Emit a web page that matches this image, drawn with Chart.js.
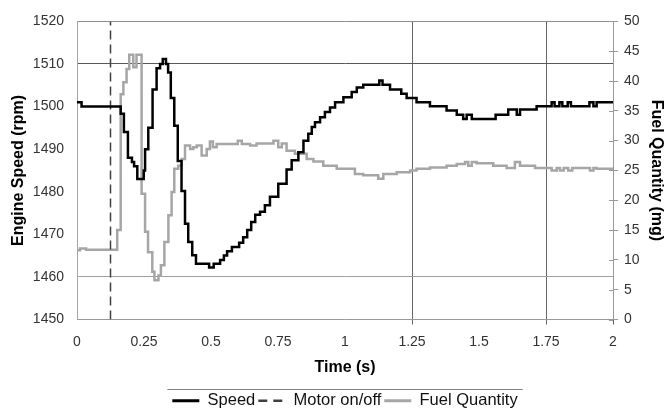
<!DOCTYPE html>
<html>
<head>
<meta charset="utf-8">
<script src="https://cdn.jsdelivr.net/npm/chart.js@4.4.0/dist/chart.umd.min.js"></script>
<style>
  html, body { margin: 0; padding: 0; background: #fff; }
</style>
</head>
<body>
<canvas id="grafico" width="668" height="411"></canvas>
<script>
// Datos (escalones: cada valor se mantiene hasta el siguiente tiempo)
const speedTime = [0, 0.017, 0.163, 0.175, 0.19, 0.205, 0.213, 0.225, 0.249, 0.254, 0.266, 0.282, 0.297, 0.31, 0.32, 0.332, 0.34, 0.35,
  0.363, 0.376, 0.39, 0.403, 0.415, 0.43, 0.444, 0.493, 0.51, 0.534, 0.548, 0.56, 0.578, 0.605, 0.62, 0.635, 0.65, 0.665, 0.683,
  0.701, 0.72, 0.751, 0.782, 0.801, 0.826, 0.845, 0.863, 0.876, 0.888, 0.907, 0.925, 0.944, 0.963, 0.994, 1.025, 1.044, 1.068,
  1.128, 1.14, 1.168, 1.21, 1.23, 1.267, 1.317, 1.379, 1.417, 1.441, 1.454, 1.473, 1.562, 1.609, 1.641, 1.653, 1.715, 1.771,
  1.782, 1.8, 1.811, 1.831, 1.843, 1.912, 1.927, 1.939, 2];
const speedRpm = [1501, 1500, 1498.3, 1494, 1488, 1487, 1486, 1483, 1485, 1490, 1495, 1504, 1509, 1510, 1511.2, 1510, 1508, 1502,
  1495.5, 1487.2, 1480.2, 1472.5, 1468.2, 1465.1, 1463.1, 1462.2, 1463.1, 1464, 1465, 1466, 1467, 1468, 1469.3, 1471, 1472.9, 1474.6, 1475.3,
  1476.8, 1478.8, 1481.9, 1485.2, 1487.4, 1489.3, 1492, 1493.6, 1495.2, 1496.3, 1497.5, 1498.7, 1499.8, 1501, 1502.2, 1503.4, 1504.5, 1505.1,
  1506.1, 1505.1, 1504, 1503, 1502, 1501, 1500.1, 1499.1, 1498.1, 1497.1, 1498.1, 1497.1, 1498.1, 1499.3, 1498.1, 1499.3, 1500.1, 1501,
  1500.1, 1501, 1500.1, 1501, 1500.1, 1501, 1500.1, 1501, 1501];

const fuelTime = [0, 0.011, 0.034, 0.15, 0.163, 0.173, 0.185, 0.195, 0.21, 0.222, 0.241, 0.254, 0.265, 0.281, 0.289, 0.304, 0.313,
  0.326, 0.341, 0.353, 0.363, 0.378, 0.391, 0.403, 0.422, 0.434, 0.447, 0.465, 0.484, 0.496, 0.507, 0.521, 0.6, 0.615, 0.646, 0.67,
  0.733, 0.751, 0.764, 0.782, 0.813, 0.857, 0.882, 0.919, 0.969, 1.037, 1.068, 1.124, 1.143, 1.193, 1.243, 1.267, 1.317, 1.379,
  1.417, 1.448, 1.46, 1.473, 1.491, 1.553, 1.603, 1.634, 1.653, 1.709, 1.771, 1.79, 1.802, 1.816, 1.833, 1.848, 1.914, 1.927,
  1.939, 2];
const fuelMg = [11.6, 11.9, 11.7, 15, 37.8, 39.8, 42, 44.4, 42.3, 44.4, 21.1, 14.7, 11.3, 8, 6.6, 7.4, 9.1,
  13, 17.5, 21.4, 25.3, 25.8, 26.9, 29.2, 28.6, 28.9, 29.2, 27.5, 28.6, 29.85, 28.9, 29.45, 30, 29.45, 29.2, 29.5,
  30, 28.9, 29.5, 28.3, 27.8, 26.9, 26.5, 25.8, 25.3, 24.4, 24.2, 23.6, 24.4, 24.7, 25, 25.3, 25.5, 25.8,
  26.1, 26.4, 25.8, 26.4, 26.2, 25.8, 25.4, 26.4, 25.8, 25.4, 25, 25.4, 25, 25.4, 25, 25.4, 25, 25.4,
  25.3, 25.3];

const motorTime = [0.125, 0.125];
const motorRpm = [1450, 1520];

const xTicks = [0, 0.25, 0.5, 0.75, 1, 1.25, 1.5, 1.75, 2];
const xGridAt = [1.25, 1.75];

const toPoints = (xs, ys) => xs.map((x, i) => ({ x, y: ys[i] }));

Chart.defaults.font.family = "'Liberation Sans', Arial, sans-serif";
Chart.defaults.color = '#333';

// Leyenda desplazada, línea sobre la leyenda y marcas hacia dentro del eje derecho
const extras = {
  id: 'extras',
  afterLayout(chart) {
    const lg = chart.legend;
    lg.top += 8; lg.bottom += 8;
    lg.left += 11; lg.right += 11;
  },
  afterDraw(chart) {
    const ctx = chart.ctx;
    const boxes = chart.legend.legendHitBoxes;
    ctx.save();
    if (boxes && boxes.length) {
      const last = boxes[boxes.length - 1];
      const x0 = boxes[0].left - 5;
      const x1 = last.left + last.width + 5;
      const y = Math.round(chart.legend.top) - 0.5;
      ctx.strokeStyle = '#808080';
      ctx.lineWidth = 1;
      ctx.beginPath();
      ctx.moveTo(x0, y);
      ctx.lineTo(x1, y);
      ctx.stroke();
    }
    const y2 = chart.scales.y2;
    ctx.strokeStyle = '#999';
    ctx.lineWidth = 1;
    y2.ticks.forEach(t => {
      const py = Math.round(y2.getPixelForValue(t.value)) + 0.5;
      ctx.beginPath();
      ctx.moveTo(y2.left - 4, py);
      ctx.lineTo(y2.left, py);
      ctx.stroke();
    });
    ctx.restore();
  }
};

new Chart(document.getElementById('grafico'), {
  type: 'line',
  data: {
    datasets: [
      {
        label: 'Speed',
        data: toPoints(speedTime, speedRpm),
        yAxisID: 'y',
        borderColor: '#000',
        backgroundColor: '#000',
        borderWidth: 2.5,
        stepped: true,
        pointRadius: 0
      },
      {
        label: 'Motor on/off',
        data: toPoints(motorTime, motorRpm),
        yAxisID: 'y',
        borderColor: '#404040',
        backgroundColor: '#404040',
        borderWidth: 1.5,
        borderDash: [9, 5],
        pointRadius: 0
      },
      {
        label: 'Fuel Quantity',
        data: toPoints(fuelTime, fuelMg),
        yAxisID: 'y2',
        borderColor: '#a6a6a6',
        backgroundColor: '#a6a6a6',
        borderWidth: 2.5,
        stepped: true,
        pointRadius: 0
      }
    ]
  },
  options: {
    responsive: false,
    animation: false,
    layout: { padding: { top: 19, left: 0, right: 0, bottom: 0 } },
    plugins: {
      legend: {
        position: 'bottom',
        labels: {
          boxWidth: 27,
          boxHeight: 0,
          padding: 3,
          color: '#111',
          font: { size: 16.5 },
          // la muestra es un rectángulo de alto 0; el patrón [9,6] con ancho 27 coincide a la ida y a la vuelta
          generateLabels: chart => chart.data.datasets.map((ds, i) => ({
            text: ds.label,
            fillStyle: ds.borderColor,
            strokeStyle: ds.borderColor,
            lineWidth: ds.borderDash ? 2.5 : 3,
            lineDash: ds.borderDash ? [9, 6] : [],
            fontColor: '#111',
            datasetIndex: i
          }))
        }
      },
      tooltip: { enabled: false }
    },
    scales: {
      x: {
        type: 'linear',
        min: 0,
        max: 2,
        afterBuildTicks: s => { s.ticks = xTicks.map(v => ({ value: v })); },
        afterFit: s => { s.height = 62; },
        ticks: { padding: 9, font: { size: 14 }, color: '#333', callback: v => String(v) },
        grid: {
          color: c => xGridAt.includes(c.tick && c.tick.value) ? '#666' : 'rgba(0,0,0,0)',
          tickColor: c => (xGridAt.includes(c.tick && c.tick.value) || (c.tick && c.tick.value === 2)) ? '#666' : 'rgba(0,0,0,0)',
          tickLength: 5
        },
        border: { color: '#999' },
        title: { display: true, text: 'Time (s)', font: { size: 16, weight: 'bold' }, color: '#000', padding: { top: 0, bottom: 4 } }
      },
      y: {
        position: 'left',
        min: 1450,
        max: 1520,
        ticks: { stepSize: 10, padding: 13, font: { size: 14 }, color: '#333', callback: v => String(v) },
        afterFit: s => { s.width = 77; },
        grid: {
          drawTicks: false,
          color: c => {
            const v = c.tick && c.tick.value;
            if (v === 1510) return '#595959';
            if (v === 1460) return '#a0a0a0';
            if (v === 1520) return '#8c8c8c';
            return 'rgba(0,0,0,0)';
          }
        },
        border: { color: '#a6a6a6' },
        title: { display: true, text: 'Engine Speed (rpm)', font: { size: 16, weight: 'bold' }, color: '#000', padding: { top: 9, bottom: 0 } }
      },
      y2: {
        position: 'right',
        min: 0,
        max: 50,
        ticks: { stepSize: 5, padding: 6, font: { size: 14 }, color: '#333', callback: v => String(v) },
        afterFit: s => { s.width = 55; },
        grid: { drawOnChartArea: false, tickLength: 5, color: '#999' },
        border: { color: '#999' },
        title: { display: true, text: 'Fuel Quantity (mg)', font: { size: 16, weight: 'bold' }, color: '#000', padding: { top: 2, bottom: 0 } }
      }
    }
  },
  plugins: [extras]
});
</script>
</body>
</html>
